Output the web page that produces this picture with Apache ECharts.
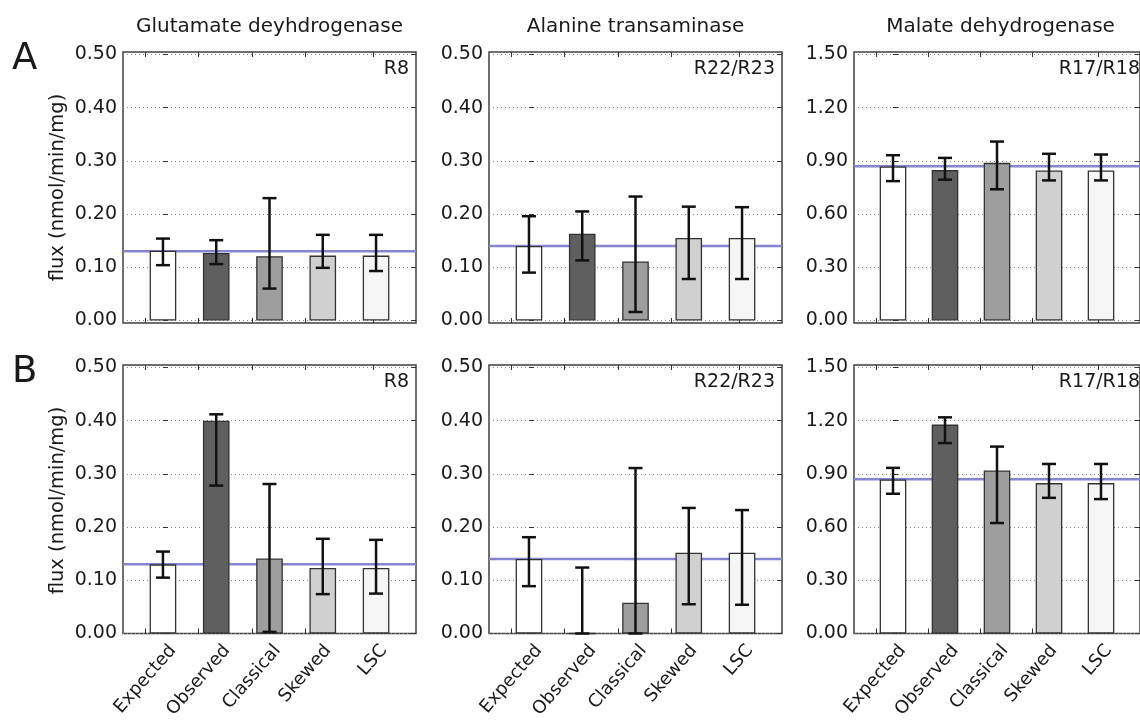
<!DOCTYPE html>
<html><head><meta charset="utf-8">
<script src="https://cdn.jsdelivr.net/npm/echarts@6/dist/echarts.min.js"></script>
<style>html,body{margin:0;padding:0;background:#fff}#c{width:1140px;height:721px}</style>
</head><body><div id="c"></div>
<script>
// ---------- data ----------
const categories = ['Expected', 'Observed', 'Classical', 'Skewed', 'LSC'];
const enzymes = ['Glutamate deyhdrogenase', 'Alanine transaminase', 'Malate dehydrogenase'];
const reactions = ['R8', 'R22/R23', 'R17/R18'];
const rowLabels = ['A', 'B'];
const yMaxByEnzyme = [0.5, 0.5, 1.5];
const yStepByEnzyme = [0.1, 0.1, 0.3];
const expectedFlux = [0.13, 0.14, 0.87];

const valuesA_GDH = [0.131, 0.127, 0.121, 0.122, 0.122];
const lowA_GDH    = [0.104, 0.106, 0.060, 0.099, 0.093];
const highA_GDH   = [0.154, 0.151, 0.230, 0.161, 0.161];

const valuesA_ALT = [0.140, 0.163, 0.111, 0.155, 0.155];
const lowA_ALT    = [0.090, 0.113, 0.016, 0.078, 0.078];
const highA_ALT   = [0.196, 0.205, 0.233, 0.214, 0.213];

const valuesA_MDH = [0.869, 0.848, 0.889, 0.846, 0.846];
const lowA_MDH    = [0.786, 0.794, 0.740, 0.790, 0.790];
const highA_MDH   = [0.932, 0.917, 1.009, 0.940, 0.936];

const valuesB_GDH = [0.130, 0.400, 0.141, 0.123, 0.123];
const lowB_GDH    = [0.105, 0.278, 0.003, 0.074, 0.075];
const highB_GDH   = [0.154, 0.412, 0.281, 0.178, 0.176];

const valuesB_ALT = [0.140, 0.000, 0.058, 0.152, 0.152];
const lowB_ALT    = [0.089, 0.000, 0.000, 0.055, 0.054];
const highB_ALT   = [0.181, 0.124, 0.311, 0.236, 0.232];

const valuesB_MDH = [0.868, 1.178, 0.919, 0.848, 0.848];
const lowB_MDH    = [0.788, 1.074, 0.623, 0.765, 0.758];
const highB_MDH   = [0.934, 1.219, 1.054, 0.956, 0.956];

// ---------- layout / style ----------
const FONT = 'DejaVu Sans';
const TXT = '#1a1a1a';
const panelLeft = [123, 489, 854];
const panelWidth = 293;
const rowTop = [52, 365];
const rowHeight = 271;
const xMin = -0.75, xMax = 4.75;
const xTickPos = [-0.33, 0.67, 1.67, 2.67, 3.94];
const barColors = ['#ffffff', '#5f5f5f', '#9e9e9e', '#d0d0d0', '#f6f6f6'];
const pxPerUnit = panelWidth / (xMax - xMin);
const xLabelSize = 18;
const xLabelRotate = 49;

const panels = [
  { row: 0, col: 0, values: valuesA_GDH, low: lowA_GDH, high: highA_GDH },
  { row: 0, col: 1, values: valuesA_ALT, low: lowA_ALT, high: highA_ALT },
  { row: 0, col: 2, values: valuesA_MDH, low: lowA_MDH, high: highA_MDH },
  { row: 1, col: 0, values: valuesB_GDH, low: lowB_GDH, high: highB_GDH },
  { row: 1, col: 1, values: valuesB_ALT, low: lowB_ALT, high: highB_ALT },
  { row: 1, col: 2, values: valuesB_MDH, low: lowB_MDH, high: highB_MDH }
];

// label anchor positions: matplotlib centres the rotated label box on the tick
const ctx = document.createElement('canvas').getContext('2d');
ctx.font = xLabelSize + 'px "' + FONT + '"';
const cosR = Math.cos(xLabelRotate * Math.PI / 180);
const labelPos = categories.map((c, i) => xTickPos[i] + 0.5 * cosR * ctx.measureText(c).width / pxPerUnit);
function labelFor(v) {
  let best = 0, d = Infinity;
  labelPos.forEach((p, i) => { const dd = Math.abs(p - v); if (dd < d) { d = dd; best = i; } });
  return categories[best];
}

const grid = [], xAxis = [], yAxis = [], series = [], title = [];

panels.forEach((p, k) => {
  const left = panelLeft[p.col], top = rowTop[p.row];
  const yMax = yMaxByEnzyme[p.col], yStep = yStepByEnzyme[p.col];
  const gF = grid.length;
  grid.push({ left, top, width: panelWidth, height: rowHeight, show: true,
    borderColor: '#404040', borderWidth: 1.5, backgroundColor: 'rgba(0,0,0,0)' });
  const gD = grid.length;
  grid.push({ left, top: top + 2.5, width: panelWidth, height: rowHeight - 5 });

  const tickStyle = { show: true, inside: true, length: 5, lineStyle: { color: '#333', width: 1 } };
  xAxis.push({ gridIndex: gF, type: 'value', min: xMin, max: xMax, position: 'bottom',
    axisLine: { show: false }, splitLine: { show: false },
    axisTick: Object.assign({ customValues: xTickPos }, tickStyle),
    axisLabel: p.row === 1 ? { show: true, customValues: labelPos, rotate: xLabelRotate, margin: 14,
      fontSize: xLabelSize, fontFamily: FONT, color: TXT, formatter: labelFor } : { show: false } });
  xAxis.push({ gridIndex: gF, type: 'value', min: xMin, max: xMax, position: 'top',
    axisLine: { show: false }, splitLine: { show: false },
    axisTick: Object.assign({ customValues: xTickPos }, tickStyle), axisLabel: { show: false } });
  const xD = xAxis.length;
  xAxis.push({ gridIndex: gD, type: 'value', min: xMin, max: xMax, show: false });

  yAxis.push({ gridIndex: gF, type: 'value', min: 0, max: 1, show: false });
  const yD = yAxis.length;
  yAxis.push({ gridIndex: gD, type: 'value', min: 0, max: yMax, interval: yStep, position: 'left',
    axisLine: { show: false }, axisTick: tickStyle,
    axisLabel: { formatter: v => v.toFixed(2), fontSize: 19, fontFamily: FONT, color: TXT, margin: 6 },
    splitLine: { show: true, lineStyle: { type: [1, 3], color: '#8a8a8a', width: 1 } },
    name: p.col === 0 ? 'flux (nmol/min/mg)' : '', nameLocation: 'middle', nameGap: 55,
    nameTextStyle: { fontSize: 19.5, fontFamily: FONT, color: TXT } });
  yAxis.push({ gridIndex: gD, type: 'value', min: 0, max: yMax, interval: yStep, position: 'right',
    axisLine: { show: false }, axisTick: tickStyle, axisLabel: { show: false }, splitLine: { show: false } });

  const exp = expectedFlux[p.col];
  series.push({ type: 'line', xAxisIndex: xD, yAxisIndex: yD, z: 1, silent: true, symbol: 'none',
    data: [[xMin, exp], [xMax, exp]], lineStyle: { color: '#8686d0', width: 2.5 } });
  series.push({ type: 'bar', xAxisIndex: xD, yAxisIndex: yD, z: 2, barWidth: 0.5 * pxPerUnit,
    itemStyle: { borderColor: '#333', borderWidth: 1.3 },
    data: p.values.map((v, i) => ({ value: [i, v], itemStyle: { color: barColors[i] } })) });
  series.push({ type: 'custom', xAxisIndex: xD, yAxisIndex: yD, z: 3, silent: true,
    data: p.low.map((l, i) => [i, l, p.high[i]]),
    renderItem: (params, api) => {
      const x = api.value(0);
      const lo = api.coord([x, api.value(1)]);
      const hi = api.coord([x, api.value(2)]);
      const hw = 7;
      const st = { stroke: '#111', lineWidth: 2.5 };
      return { type: 'group', children: [
        { type: 'line', shape: { x1: lo[0], y1: lo[1], x2: hi[0], y2: hi[1] }, style: st },
        { type: 'line', shape: { x1: lo[0] - hw, y1: lo[1], x2: lo[0] + hw, y2: lo[1] }, style: st },
        { type: 'line', shape: { x1: hi[0] - hw, y1: hi[1], x2: hi[0] + hw, y2: hi[1] }, style: st }
      ] };
    } });

  title.push({ text: reactions[p.col], left: left + panelWidth - 7, top: top + 8, textAlign: 'right', padding: 0,
    textStyle: { fontSize: 19, fontWeight: 'normal', fontFamily: FONT, color: TXT } });
});

enzymes.forEach((e, c) => {
  title.push({ text: e, left: panelLeft[c] + panelWidth / 2, top: 17, textAlign: 'center', padding: 0,
    textStyle: { fontSize: 20, fontWeight: 'normal', fontFamily: FONT, color: TXT } });
});
rowLabels.forEach((r, i) => {
  title.push({ text: r, left: 12, top: rowTop[i] - 11, padding: 0,
    textStyle: { fontSize: 37, fontWeight: 'normal', fontFamily: FONT, color: TXT } });
});

const chart = echarts.init(document.getElementById('c'), null, { renderer: 'canvas' });
chart.setOption({ animation: false, backgroundColor: '#fff', title, grid, xAxis, yAxis, series });
</script>
</body></html>
